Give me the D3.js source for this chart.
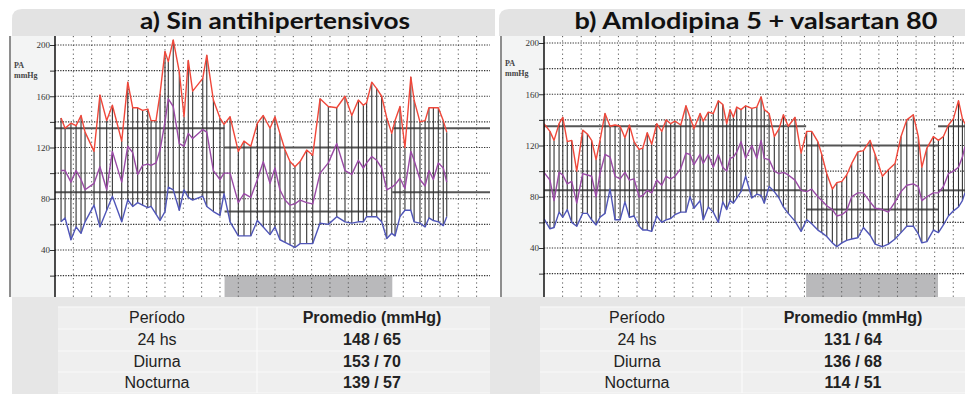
<!DOCTYPE html>
<html>
<head>
<meta charset="utf-8">
<script src="https://cdn.jsdelivr.net/npm/d3@7"></script>
<style>
  body { margin: 0; background: #fff; }
  svg { display: block; }
</style>
</head>
<body>
<svg id="chart" width="965" height="394"></svg>
<script>
// hours since start of recording, one entry per reading
const leftHours = [0.33,0.55,0.87,1.15,1.42,1.64,2.13,2.45,2.82,3.13,3.64,3.97,4.24,4.51,4.78,5.06,5.24,5.51,5.73,6.00,6.18,6.45,6.78,7.04,7.27,7.51,8.06,8.28,8.64,9.00,9.22,9.55,10.00,10.31,10.68,11.04,11.36,11.73,12.00,12.27,12.55,12.82,13.09,13.37,13.73,14.06,14.46,14.91,15.37,15.82,16.19,16.55,16.82,17.00,17.28,17.55,17.82,18.10,18.37,18.55,18.82,19.09,19.41,19.59,19.91,20.19,20.40,20.64,20.91,21.18,21.37];
const leftSys = [143,135,139,137,145,132,117,161,141,153,125,171,151,151,149,150,141,141,162,195,187,204,179,144,188,164,174,192,157,143,138,144,117,125,121,139,145,135,144,131,118,109,105,109,118,114,158,152,151,160,145,157,153,155,171,166,160,143,131,141,152,120,175,157,140,141,151,151,151,141,132];
const leftMean = [102,102,93,102,95,87,92,105,87,117,93,121,116,99,106,107,106,108,118,140,158,152,123,121,131,127,134,132,102,95,100,100,77,84,81,95,109,92,104,87,79,75,76,79,77,76,100,108,123,102,99,110,104,108,113,110,104,87,89,91,96,88,117,110,95,90,102,95,108,104,93];
const leftDia = [62,65,48,58,53,62,75,58,71,82,62,79,74,77,75,73,74,68,63,70,89,87,71,87,81,79,82,74,70,67,84,62,51,51,51,63,58,52,58,48,46,44,42,45,45,45,61,60,66,62,61,62,62,66,66,66,62,49,53,51,66,71,71,62,61,58,65,63,62,59,66];

const rightHours = [0.00,0.32,0.54,0.81,1.01,1.25,1.49,1.76,2.08,2.33,2.56,2.80,3.01,3.28,3.55,3.82,4.09,4.35,4.59,4.84,5.11,5.31,5.55,5.79,6.06,6.33,6.56,6.81,7.04,7.35,7.63,7.85,8.06,8.39,8.56,8.83,9.10,9.37,9.61,9.82,10.00,10.18,10.36,10.59,10.84,11.17,11.44,11.67,11.84,12.10,12.38,12.63,12.87,13.13,13.49,13.82,14.12,14.39,14.72,14.93,15.20,15.50,15.74,16.01,16.27,16.54,16.87,17.17,17.53,17.80,18.19,18.51,18.87,19.19,19.50,19.85,20.12,20.31,20.58,20.93,21.20,21.47,21.74,22.01,22.28,22.49,22.63];
const rightSys = [137,131,124,137,142,123,124,100,132,129,124,109,124,145,135,136,135,126,136,123,117,118,130,121,137,131,140,137,139,136,151,142,133,145,139,146,145,155,152,137,148,142,150,148,151,149,150,158,148,145,127,133,144,135,142,114,131,131,123,113,98,86,91,92,97,106,115,116,124,113,96,101,106,127,140,144,127,103,118,127,124,127,136,141,155,141,137];
const rightMean = [99,93,77,99,97,90,92,75,98,97,96,80,98,113,111,96,94,99,93,94,80,81,85,83,93,89,96,94,96,102,114,113,105,113,106,113,103,113,103,100,110,111,115,123,110,120,110,124,110,109,100,98,99,97,93,85,84,86,80,77,73,70,65,66,69,80,83,83,76,71,70,68,76,84,89,90,88,77,80,83,83,88,98,100,103,111,119];
const rightDia = [63,55,56,68,64,70,60,57,67,67,62,58,64,67,86,62,62,76,64,65,57,54,54,53,65,60,62,63,66,68,68,80,71,77,62,72,68,60,76,70,77,75,79,84,96,79,82,81,75,88,84,79,72,67,61,53,62,59,54,52,49,44,41,44,46,47,48,56,50,43,41,43,47,52,57,57,51,44,45,54,52,58,65,69,72,77,83];

const yTicks = [20,40,60,80,100,120,140,160,180,200];
const yLabels = [40,80,120,160,200];
const dayLimits = [135,85];
const nightLimits = [120,70];

const tableHeader = ['Período','Promedio (mmHg)'];
const periods = ['24 hs','Diurna','Nocturna'];
const leftAverages = ['148 / 65','153 / 70','139 / 57'];
const rightAverages = ['131 / 64','136 / 68','114 / 51'];

const panels = [
  {
    id: 'a', title: 'a) Sin antihipertensivos', titleX: 275, titleW: 270,
    bandX0: 12, bandX1: 495, frameX: 10, axisX: 55, plotRight: 490, xMax: 23.73,
    y200: 45, y40: 250, nightStart: 9.25, nightEnd: 18.4,
    hours: leftHours, sys: leftSys, mean: leftMean, dia: leftDia,
    tableX0: 58, tableX1: 490, colDiv: 257, col1: 157, col2: 372, averages: leftAverages,
  },
  {
    id: 'b', title: 'b) Amlodipina 5 + valsartan 80', titleX: 756, titleW: 363,
    bandX0: 499, bandX1: 965, frameX: 501, axisX: 544, plotRight: 965, xMax: 22.63,
    y200: 43, y40: 248, nightStart: 14.09, nightEnd: 21.18,
    hours: rightHours, sys: rightSys, mean: rightMean, dia: rightDia,
    tableX0: 540, tableX1: 965, colDiv: 742, col1: 637, col2: 853, averages: rightAverages,
  },
];

const svg = d3.select('#chart');
const plotTop = 36;
const plotBottom = 297;

// bottom area behind the tables
svg.append('rect')
  .attr('x', 12).attr('y', plotBottom).attr('width', 953).attr('height', 394 - plotBottom)
  .attr('fill', '#e6e6e6');

panels.forEach(drawPanel);

function drawPanel(p) {
  const g = svg.append('g');
  const x = d3.scaleLinear().domain([0, p.xMax]).range([p.axisX, p.plotRight]);
  const y = d3.scaleLinear().domain([40, 200]).range([p.y40, p.y200]);

  // title band, rounded only at top-left
  const r = 10;
  g.append('path')
    .attr('d', `M${p.bandX0},${plotTop} V${9 + r} Q${p.bandX0},9 ${p.bandX0 + r},9 H${p.bandX1} V${plotTop} Z`)
    .attr('fill', '#e3e3e3');
  g.append('text')
    .attr('x', p.titleX).attr('y', 29)
    .attr('text-anchor', 'middle')
    .attr('font-family', 'Lato, "DejaVu Sans", sans-serif')
    .attr('font-weight', 700)
    .attr('font-size', 22)
    .attr('textLength', p.titleW)
    .attr('lengthAdjust', 'spacingAndGlyphs')
    .attr('fill', '#111')
    .text(p.title);

  // left strip with the axis labels
  g.append('rect')
    .attr('x', p.frameX).attr('y', plotTop).attr('width', p.axisX - p.frameX).attr('height', plotBottom - plotTop)
    .attr('fill', '#f3f4f4');
  g.append('line')
    .attr('x1', p.frameX).attr('x2', p.frameX).attr('y1', plotTop).attr('y2', plotBottom)
    .attr('stroke', '#8e8e8e').attr('stroke-width', 2);

  // plot area
  const clipId = `clip-${p.id}`;
  svg.append('clipPath').attr('id', clipId)
    .append('rect')
    .attr('x', p.axisX).attr('y', plotTop).attr('width', p.plotRight - p.axisX).attr('height', plotBottom - plotTop);
  const plot = g.append('g').attr('clip-path', `url(#${clipId})`);

  plot.append('rect')
    .attr('x', p.axisX).attr('y', plotTop).attr('width', p.plotRight - p.axisX).attr('height', plotBottom - plotTop)
    .attr('fill', '#fff');

  // night period marker
  plot.append('rect')
    .attr('x', x(p.nightStart)).attr('y', y(20))
    .attr('width', x(p.nightEnd) - x(p.nightStart)).attr('height', plotBottom - y(20))
    .attr('fill', '#b9b9bb');

  // hourly vertical grid
  plot.selectAll('line.vgrid')
    .data(d3.range(1, Math.ceil(p.xMax)))
    .enter()
    .append('line')
    .attr('class', 'vgrid')
    .attr('x1', (d) => x(d)).attr('x2', (d) => x(d))
    .attr('y1', plotTop).attr('y2', plotBottom)
    .attr('stroke', '#555').attr('stroke-width', 1)
    .attr('stroke-dasharray', '1.2,3.2');

  // horizontal grid every 20 mmHg
  plot.selectAll('line.hgrid')
    .data(yTicks)
    .enter()
    .append('line')
    .attr('class', 'hgrid')
    .attr('x1', p.axisX).attr('x2', p.plotRight)
    .attr('y1', (d) => y(d)).attr('y2', (d) => y(d))
    .attr('stroke', '#333').attr('stroke-width', 1.1)
    .attr('stroke-dasharray', '1.3,1.3');

  // reference limits, day / night / day
  const limitSegments = [
    { from: 0, to: p.nightStart, values: dayLimits },
    { from: p.nightStart, to: p.nightEnd, values: nightLimits },
    { from: p.nightEnd, to: p.xMax, values: dayLimits },
  ];
  limitSegments.forEach((s) => {
    plot.selectAll(null)
      .data(s.values)
      .enter()
      .append('line')
      .attr('x1', x(s.from)).attr('x2', x(s.to))
      .attr('y1', (d) => y(d)).attr('y2', (d) => y(d))
      .attr('stroke', '#555').attr('stroke-width', 2);
  });

  // one bar per reading, systolic to diastolic
  plot.selectAll('line.bar')
    .data(p.hours)
    .enter()
    .append('line')
    .attr('class', 'bar')
    .attr('x1', (d) => x(d)).attr('x2', (d) => x(d))
    .attr('y1', (d, i) => y(p.sys[i])).attr('y2', (d, i) => y(p.dia[i]))
    .attr('stroke', '#333').attr('stroke-width', 1.1);

  const line = d3.line().x((d, i) => x(p.hours[i])).y((d) => y(d));
  const series = [
    { values: p.dia, color: '#4f55b8' },
    { values: p.mean, color: '#9a4aa6' },
    { values: p.sys, color: '#f0473a' },
  ];
  plot.selectAll('path.series')
    .data(series)
    .enter()
    .append('path')
    .attr('class', 'series')
    .attr('d', (d) => line(d.values))
    .attr('fill', 'none')
    .attr('stroke', (d) => d.color)
    .attr('stroke-width', 1.4)
    .attr('stroke-linejoin', 'round');

  // y axis
  const axis = g.append('g')
    .attr('transform', `translate(${p.axisX},0)`)
    .call(d3.axisLeft(y).tickValues(yTicks).tickSize(5).tickPadding(0)
      .tickFormat((d) => (yLabels.includes(d) ? d : '')));
  axis.select('.domain').remove();
  axis.selectAll('.tick line').attr('stroke', '#333');
  axis.selectAll('.tick text')
    .attr('font-family', '"Liberation Serif", "DejaVu Serif", serif')
    .attr('font-size', 9)
    .attr('fill', '#333');
  g.append('line')
    .attr('x1', p.axisX).attr('x2', p.axisX).attr('y1', plotTop).attr('y2', plotBottom)
    .attr('stroke', '#111').attr('stroke-width', 1.5);

  g.selectAll('text.unit')
    .data(['PA', 'mmHg'])
    .enter()
    .append('text')
    .attr('class', 'unit')
    .attr('x', p.frameX + 4)
    .attr('y', (d, i) => p.y200 + 23 + i * 10)
    .attr('font-family', '"Liberation Serif", "DejaVu Serif", serif')
    .attr('font-size', 8)
    .attr('font-weight', 700)
    .attr('fill', '#444')
    .text((d) => d);

  drawTable(p);
}

function drawTable(p) {
  const g = svg.append('g');
  const rowLines = [307, 329, 351, 372, 393];
  const baselines = [323, 345, 367, 388];

  g.append('rect')
    .attr('x', p.tableX0).attr('y', rowLines[0])
    .attr('width', p.tableX1 - p.tableX0).attr('height', rowLines[4] - rowLines[0])
    .attr('fill', '#efefef');
  g.selectAll('line.row')
    .data(rowLines)
    .enter()
    .append('line')
    .attr('x1', p.tableX0).attr('x2', p.tableX1)
    .attr('y1', (d) => d).attr('y2', (d) => d)
    .attr('stroke', '#fafafa').attr('stroke-width', 1.2);
  g.append('line')
    .attr('x1', p.colDiv).attr('x2', p.colDiv).attr('y1', rowLines[0]).attr('y2', rowLines[4])
    .attr('stroke', '#fafafa').attr('stroke-width', 1.2);

  const rows = [tableHeader].concat(periods.map((d, i) => [d, p.averages[i]]));
  rows.forEach((row, i) => {
    [p.col1, p.col2].forEach((cx, j) => {
      g.append('text')
        .attr('x', cx).attr('y', baselines[i])
        .attr('text-anchor', 'middle')
        .attr('font-family', '"Liberation Sans", Arial, sans-serif')
        .attr('font-size', 16)
        .attr('font-weight', j === 1 ? 700 : 400)
        .attr('fill', '#222')
        .text(row[j]);
    });
  });
}
</script>
</body>
</html>
